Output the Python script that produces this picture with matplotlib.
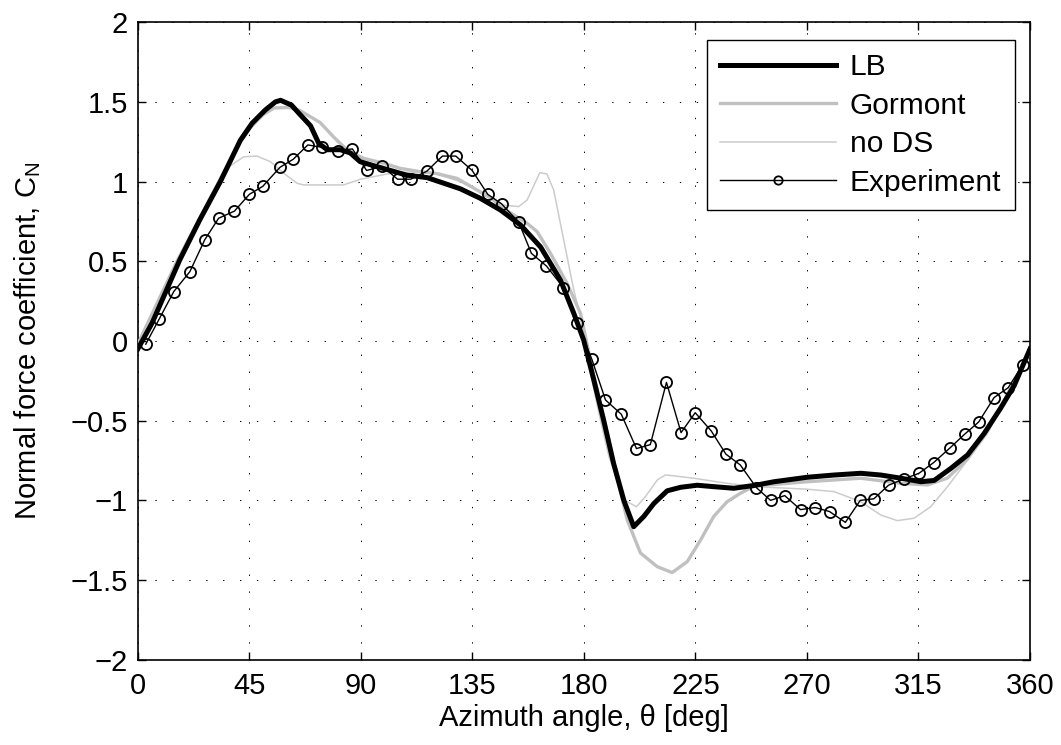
import numpy as np
import matplotlib
matplotlib.use("Agg")
import matplotlib.pyplot as plt

plt.rcParams['font.family'] = ['Liberation Sans', 'DejaVu Sans']
plt.rcParams['mathtext.fontset'] = 'custom'
plt.rcParams['mathtext.rm'] = 'Liberation Sans'
plt.rcParams['mathtext.it'] = 'Liberation Sans'

# LB model
lb_theta = [0, 5.7, 16.9, 25, 33.3, 41.4, 46.1, 51.5, 55.5, 57.6, 62, 65.5, 69.7, 73, 76.4,
            81.7, 85.7, 89.7, 95.1, 101.9, 108.6, 116.7, 123.4, 130.1, 138.2, 146.3,
            154.4, 162.5, 170.5, 175.9, 179.9, 184, 188, 192, 196.1, 200.1, 204.2, 208.2,
            213.6, 219, 225.7, 232.4, 240.5, 249.3, 256.7, 270.1, 280.9, 291.7, 299.8,
            307.9, 316, 321.3, 328, 334.8, 341.5, 348.2, 353.6, 360]
lb_cn = [-0.05, 0.111, 0.508, 0.76, 1.0, 1.26, 1.366, 1.45, 1.50, 1.51, 1.48, 1.42, 1.35,
         1.24, 1.20, 1.20, 1.18, 1.125, 1.10, 1.07, 1.04, 1.025, 0.99, 0.955, 0.895,
         0.822, 0.728, 0.59, 0.383, 0.174, 0.006, -0.245, -0.50, -0.77, -1.0, -1.165,
         -1.10, -1.02, -0.94, -0.918, -0.905, -0.914, -0.924, -0.905, -0.883, -0.855,
         -0.841, -0.83, -0.841, -0.861, -0.883, -0.875, -0.80, -0.715, -0.58, -0.42,
         -0.28, -0.05]

# Gormont model
gm_theta = [0, 2.4, 15.8, 32.7, 40.5, 45.5, 50.5, 55, 61, 65.5, 73.6, 79, 84.4, 91.1,
            99.2, 105.9, 114, 120.7, 128.8, 136.9, 143.6, 146.3, 157.1, 161.1, 166.5,
            173.2, 178.6, 184, 188, 192, 197.4, 202.8, 209.6, 215.6, 221.7, 227.1, 232.4,
            237.8, 243.2, 249.3, 256.7, 270.1, 291.7, 307.9, 318.6, 326.7, 334.8, 342.9,
            350, 360]
gm_cn = [-0.02, 0.06, 0.5, 1.0, 1.23, 1.34, 1.42, 1.462, 1.465, 1.445, 1.37, 1.28, 1.198,
         1.146, 1.115, 1.083, 1.062, 1.05, 1.02, 0.947, 0.885, 0.843, 0.738, 0.686, 0.55,
         0.362, 0.174, -0.22, -0.48, -0.76, -1.12, -1.33, -1.416, -1.453, -1.384,
         -1.248, -1.10, -1.008, -0.955, -0.905, -0.90, -0.883, -0.861, -0.893, -0.903,
         -0.86, -0.74, -0.56, -0.36, -0.07]

# no dynamic stall
nd_theta = [0, 2.4, 15.8, 30, 33.3, 37.4, 42.8, 48.1, 53.5, 58.9, 64.3, 67, 83, 89.7,
            96.5, 101.9, 110, 120, 130, 140, 147.6, 153.7, 157.1, 162.2, 165.1, 167.8,
            170.5, 173.2, 175.9, 178.6, 182, 186, 190, 196.1, 201.2, 204.8, 209.6,
            212.9, 224.3, 237.8, 249.3, 270.1, 280.9, 291.7, 299.8, 306.5, 313.2,
            319.9, 326.7, 334.8, 342.9, 350, 360]
nd_cn = [-0.02, 0.06, 0.5, 0.92, 1.01, 1.10, 1.156, 1.16, 1.125, 1.052, 0.989, 0.979,
         0.979, 1.014, 1.035, 1.052, 1.06, 1.05, 1.0, 0.92, 0.853, 0.843, 0.885, 1.056,
         1.048, 0.947, 0.738, 0.529, 0.32, 0.152, -0.15, -0.45, -0.72, -0.997, -1.04,
         -0.977, -0.872, -0.84, -0.861, -0.893, -0.914, -0.93, -0.945, -1.008, -1.092,
         -1.127, -1.112, -1.04, -0.914, -0.747, -0.579, -0.36, -0.06]

# experiment
ex_theta = [3.2, 8.7, 14.5, 21.0, 27.0, 32.6, 39.0, 45.0, 50.4, 57.4, 62.7, 68.6, 74.3,
            80.6, 86.6, 92.3, 98.7, 104.8, 110.1, 116.6, 122.9, 128.3, 134.9, 141.2,
            146.8, 153.7, 158.8, 164.9, 171.7, 177.4, 183.2, 188.7, 195.1, 201.2, 206.8,
            213.3, 219.2, 224.9, 231.4, 237.3, 243.1, 249.6, 255.3, 261.0, 267.4, 273.3,
            279.1, 285.5, 291.5, 297.0, 302.9, 309.2, 315.2, 321.1, 327.7, 333.6, 339.3,
            345.5, 351.2, 357.0]
ex_cn = [-0.02, 0.14, 0.31, 0.435, 0.635, 0.77, 0.815, 0.92, 0.97, 1.09, 1.14, 1.23,
         1.215, 1.195, 1.205, 1.07, 1.095, 1.015, 1.015, 1.065, 1.16, 1.16, 1.07, 0.92,
         0.86, 0.745, 0.55, 0.47, 0.335, 0.11, -0.115, -0.37, -0.46, -0.675, -0.65,
         -0.26, -0.575, -0.45, -0.565, -0.71, -0.778, -0.92, -1.0, -0.97, -1.058,
         -1.045, -1.07, -1.138, -1.0, -0.99, -0.905, -0.865, -0.83, -0.763, -0.671,
         -0.585, -0.508, -0.355, -0.293, -0.15]

fig = plt.figure(figsize=(10.61, 7.45), dpi=100)
ax = fig.add_axes([0.1299, 0.1144, 0.8409, 0.8558])

ax.plot(lb_theta, lb_cn, color='black', lw=3.6, label='LB', zorder=4)
ax.plot(gm_theta, gm_cn, color='#c0c0c0', lw=2.4, label='Gormont', zorder=3)
ax.plot(nd_theta, nd_cn, color='#cccccc', lw=1.1, label='no DS', zorder=2)
ax.plot(ex_theta, ex_cn, color='black', lw=1.0, marker='o', ms=8, mfc='none',
        mec='black', mew=1.3, label='Experiment', zorder=5)

ax.set_xlim(0, 360)
ax.set_ylim(-2, 2)
ax.set_xticks(np.arange(0, 361, 45))
ax.set_yticks(np.arange(-2, 2.01, 0.5))
ax.set_yticklabels(['\u22122', '\u22121.5', '\u22121', '\u22120.5', '0', '0.5', '1', '1.5', '2'])
ax.grid(True, color='black', linestyle=(0, (1.4, 16)), linewidth=0.7)
ax.tick_params(direction='in', length=6, width=1, top=True, right=True,
               labelsize=21)
ax.tick_params(axis='x', pad=9)
ax.tick_params(axis='y', pad=7)
for s in ax.spines.values():
    s.set_linewidth(1.2)

ax.set_xlabel('Azimuth angle, \u03b8 [deg]', fontsize=21, labelpad=3)
ax.set_ylabel('Normal force coefficient, C$_\\mathrm{N}$', fontsize=21, labelpad=20)

leg = ax.legend(loc='upper right', bbox_to_anchor=(0.983, 0.972), fontsize=21.5,
                fancybox=False, edgecolor='black', framealpha=1, handlelength=3.9,
                labelspacing=0.35, borderpad=0.45, handletextpad=0.45, borderaxespad=0)
leg.get_frame().set_linewidth(1.0)
for h in leg.legend_handles:
    if h.get_marker() == 'o':
        h.set_markersize(6)

fig.savefig('out.png', dpi=100)
